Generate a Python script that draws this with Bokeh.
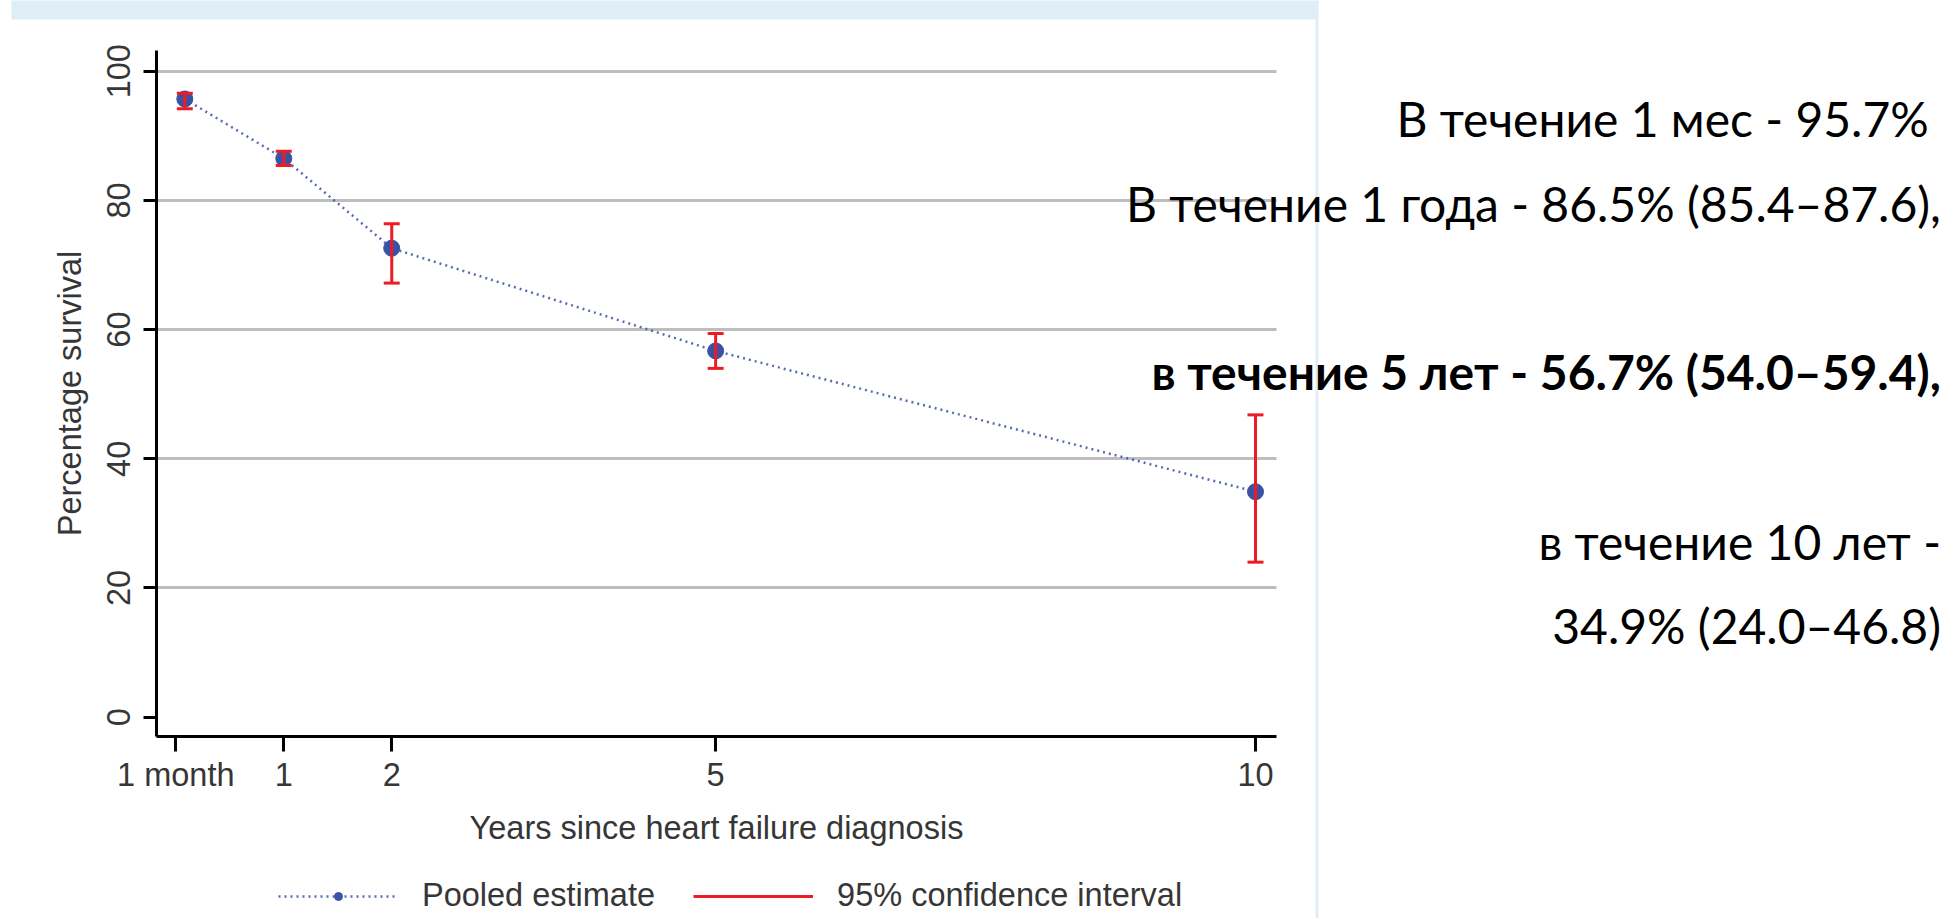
from bokeh.plotting import figure
from bokeh.models import (ColumnDataSource, FixedTicker, Legend, LegendItem, Label,
                          BoxAnnotation, Range1d, Grid)
from bokeh.embed import file_html
from bokeh.resources import INLINE

# ---------------- data ----------------
time_points = ["1 month", "1 year", "2 years", "5 years", "10 years"]
years = [1 / 12, 1, 2, 5, 10]
survival = [95.7, 86.5, 72.6, 56.7, 34.9]
ci_lower = [94.2, 85.4, 67.2, 54.0, 24.0]
ci_upper = [96.6, 87.6, 76.4, 59.4, 46.8]

x_ticks = [0, 1, 2, 5, 10]
x_tick_labels = ["1 month", "1", "2", "5", "10"]
y_ticks = [0, 20, 40, 60, 80, 100]
grid_ticks = [20, 40, 60, 80, 100]

summary_lines = [
    "В течение 1 мес  - 95.7%",
    "В течение 1 года - 86.5% (85.4–87.6),",
    "в течение 5 лет - 56.7% (54.0–59.4),",
    "в течение 10 лет -",
    "34.9% (24.0–46.8)",
]
summary_bold = [False, False, True, False, False]

# ---------------- styling / layout ----------------
BLUE = "#3A52A3"
RED = "#ED1C24"
GRID = "#BEBEC1"
TXT = "#363636"
FRAME_BLUE = "#DDEFF4"
AX_FONT = "Liberation Sans"
AX_SIZE = "32.5px"
RIGHT_FONT = "Lato"
RIGHT_SIZE = "48px"

# visible extent of the chart axes (data units)
X_AX = (-0.17875, 10.1945)
Y_AX = (-2.988, 103.2)

# vertical centres of the summary lines (y data units) and their right edge (x data units)
summary_y = [92.61, 79.45, 53.52, 27.2, 14.19]
summary_x = 16.349

src = ColumnDataSource(dict(label=time_points, years=years, survival=survival,
                            lo=ci_lower, hi=ci_upper))

# the frame covers the whole canvas; axes are pinned inside it
p = figure(width=1945, height=918, output_backend="svg", toolbar_location=None, title=None,
           x_range=Range1d(-1.6236, 16.3907), y_range=Range1d(-31.161, 110.944),
           min_border=0)
p.outline_line_color = None
p.background_fill_color = "white"
p.border_fill_color = "white"

# decorative slide frame
p.add_layout(BoxAnnotation(left=-1.522, right=10.583, bottom=108.0, top=112,
                           fill_color=FRAME_BLUE, fill_alpha=1, line_alpha=0, level="underlay"))
p.add_layout(BoxAnnotation(left=10.556, right=10.583, bottom=-40, top=112,
                           fill_color=FRAME_BLUE, fill_alpha=1, line_alpha=0, level="underlay"))

# axes
xa = p.xaxis[0]
xa.ticker = FixedTicker(ticks=x_ticks)
xa.major_label_overrides = {t: l for t, l in zip(x_ticks, x_tick_labels)}
xa.axis_label = "Years since heart failure diagnosis"
xa.bounds = X_AX
xa.fixed_location = Y_AX[0]
ya = p.yaxis[0]
ya.ticker = FixedTicker(ticks=y_ticks)
ya.axis_label = "Percentage survival"
ya.major_label_orientation = "vertical"
ya.bounds = Y_AX
ya.fixed_location = X_AX[0]

for ax in (xa, ya):
    ax.axis_line_color = "black"
    ax.axis_line_width = 3
    ax.major_tick_line_color = "black"
    ax.major_tick_line_width = 3
    ax.major_tick_in = 0
    ax.minor_tick_line_color = None
    ax.major_label_text_font = AX_FONT
    ax.major_label_text_font_size = AX_SIZE
    ax.major_label_text_color = TXT
    ax.axis_label_text_font = AX_FONT
    ax.axis_label_text_font_size = AX_SIZE
    ax.axis_label_text_font_style = "normal"
    ax.axis_label_text_color = TXT

xa.major_tick_out = 15
xa.major_label_standoff = 5
xa.axis_label_standoff = 14
ya.major_tick_out = 13
ya.major_label_standoff = 13
ya.axis_label_standoff = 17

p.xgrid.visible = False
yg = p.ygrid[0]
yg.ticker = FixedTicker(ticks=grid_ticks)
yg.grid_line_color = GRID
yg.grid_line_width = 3
if "cross_bounds" in Grid.properties():
    yg.cross_bounds = X_AX
else:
    yg.visible = False
    p.segment(x0=[X_AX[0]] * len(grid_ticks), x1=[X_AX[1]] * len(grid_ticks),
              y0=grid_ticks, y1=grid_ticks, line_color=GRID, line_width=3)

# series
line_r = p.line("years", "survival", source=src, line_color=BLUE, line_width=2.5,
                line_alpha=0.85, line_dash="2 4")
pts_r = p.scatter("years", "survival", source=src, marker="circle", size=16,
                  fill_color=BLUE, line_color=BLUE)
seg_r = p.segment(x0="years", y0="lo", x1="years", y1="hi", source=src,
                  line_color=RED, line_width=3)
cap_lo = p.scatter("years", "lo", source=src, marker="dash", size=16,
                   line_color=RED, line_width=3)
cap_hi = p.scatter("years", "hi", source=src, marker="dash", size=16,
                   line_color=RED, line_width=3)

legend = Legend(items=[LegendItem(label="Pooled estimate", renderers=[line_r, pts_r]),
                       LegendItem(label="95% confidence interval", renderers=[seg_r])],
                orientation="horizontal", location=(278, 4),
                glyph_width=120, glyph_height=20, label_standoff=24, spacing=38,
                padding=0, margin=0, border_line_color=None, background_fill_alpha=0,
                label_text_font=AX_FONT, label_text_font_size=AX_SIZE,
                label_text_color=TXT)
p.add_layout(legend, "center")

# summary text on the right
for txt, yc, bold in zip(summary_lines, summary_y, summary_bold):
    p.add_layout(Label(x=summary_x, y=yc, text=txt, text_align="right",
                       text_baseline="middle", text_font=RIGHT_FONT,
                       text_font_size=RIGHT_SIZE, text_color="black",
                       text_font_style="bold" if bold else "normal"))

open("out.html", "w").write(file_html(p, INLINE))
